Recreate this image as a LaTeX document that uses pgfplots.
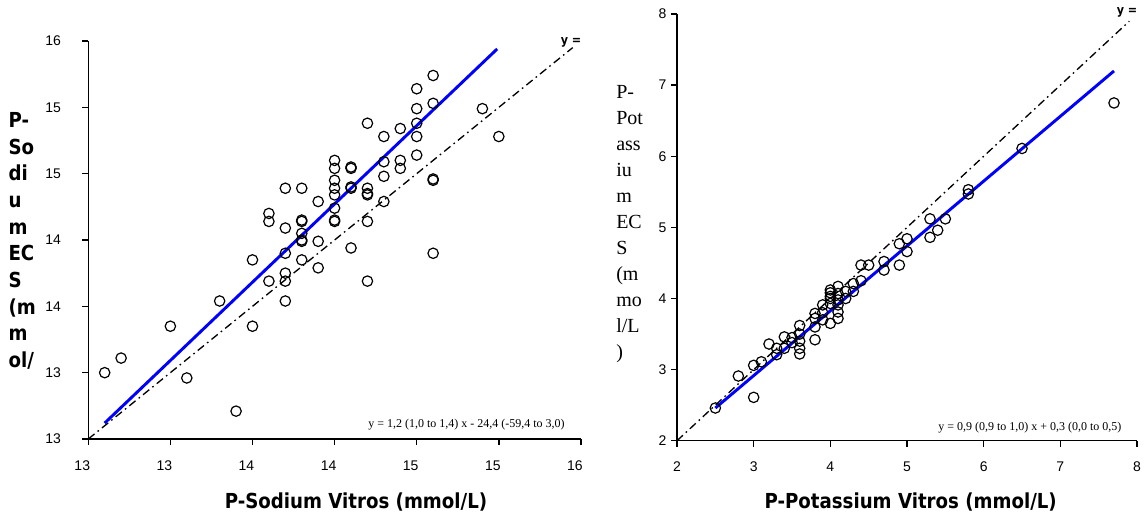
\documentclass[border=0pt]{standalone}
\usepackage{fontspec}
\setmainfont{Liberation Serif}
\newfontfamily\labfont[FakeStretch=0.88]{DejaVu Sans}
\newfontfamily\tickfont{Liberation Sans}
\usepackage{pgfplots}
\pgfplotsset{compat=1.18}

\pgfplotsset{panel/.style={
  scale only axis, axis lines=left,
  axis line style={-, line width=1.1pt},
  tick align=outside, major tick length=4.5pt,
  tick style={black, line width=1.1pt},
  clip=false,
  ticklabel style={font=\fontsize{10.5}{12}\tickfont},
  xticklabel style={yshift=-8pt},
}}
\pgfplotsset{circ/.style={only marks, mark=o, mark size=3.9pt, black, mark options={line width=0.9pt}}}
\pgfplotsset{ident/.style={black, line width=1pt, dash pattern=on 6pt off 3pt on 1.2pt off 3pt}}

\pgfplotstableread{
x y
151 157.4
150 156.4
151 155.3
150 154.9
154 154.9
150 153.8
147 153.8
149 153.4
148 152.8
150 152.8
155 152.8
150 151.4
145 151.0
145 150.4
146 150.4
146 150.5
148 150.9
149 151.0
149 150.4
148 149.8
151 149.5
151 149.6
145 149.5
145 148.9
145 148.4
146 148.9
146 149.0
147 148.9
147 148.4
147 148.5
143 148.9
142 148.9
144 147.9
148 147.9
145 147.4
145 146.4
145 146.5
147 146.4
143 146.4
143 146.5
141 147.0
141 146.4
142 145.9
143 145.5
143 144.9
143 145.0
144 144.9
146 144.4
142 144.0
151 144.0
140 143.5
143 143.5
144 142.9
142 142.5
141 141.9
142 141.9
147 141.9
142 140.4
138 140.4
135 138.5
140 138.5
132 136.1
131 135.0
136 134.6
139 132.1
}\sodium

\pgfplotstableread{
x y
2.5 2.46
2.8 2.91
3.0 2.61
3.0 3.06
3.1 3.11
3.2 3.36
3.3 3.21
3.3 3.30
3.4 3.30
3.4 3.46
3.5 3.38
3.5 3.45
3.6 3.22
3.6 3.30
3.6 3.40
3.6 3.50
3.6 3.62
3.8 3.42
3.8 3.60
3.8 3.72
3.8 3.79
3.9 3.70
3.9 3.80
3.9 3.91
4.0 3.65
4.0 3.93
4.0 4.00
4.0 4.03
4.0 4.08
4.0 4.12
4.1 3.72
4.1 3.81
4.1 3.91
4.1 3.98
4.1 4.07
4.1 4.17
4.2 4.00
4.2 4.10
4.3 4.10
4.3 4.21
4.4 4.25
4.4 4.47
4.5 4.47
4.7 4.40
4.7 4.52
4.9 4.47
4.9 4.77
5.0 4.66
5.0 4.84
5.3 4.86
5.3 5.12
5.4 4.96
5.5 5.12
5.8 5.47
5.8 5.53
6.5 6.11
7.7 6.75
}\potassium

\begin{document}
\begin{tikzpicture}
\useasboundingbox (0,0) rectangle (858pt,392.25pt);

% sodium
\begin{axis}[panel, at={(66.2pt,63pt)}, anchor=south west,
  width=369.5pt, height=298.5pt,
  xmin=130, xmax=160, ymin=130, ymax=160,
  xtick={130,135,...,160}, ytick={130,135,...,160},
  xticklabels={13,13,14,14,15,15,16},
  yticklabels={13,13,14,14,15,15,16},
  xticklabel style={xshift=-4.5pt},
  yticklabel style={xshift=-12.5pt}]
  \addplot[ident] coordinates {(130,130) (159.5,159.5)};
  \addplot[circ] table {\sodium};
  \addplot[blue, line width=2.2pt] coordinates {(131,131.2) (154.9,159.4)};
  \node[font=\labfont\bfseries\fontsize{9.5}{10}\selectfont] at (axis cs:159.4,159.9) {y =};
\end{axis}

% potassium
\begin{axis}[panel, at={(507.75pt,61.7pt)}, anchor=south west,
  width=345pt, height=320pt,
  xmin=2, xmax=8, ymin=2, ymax=8,
  xtick={2,...,8}, ytick={2,...,8},
  xticklabels={2,3,4,5,6,7,8},
  yticklabels={2,3,4,5,6,7,8}]
  \addplot[ident] coordinates {(2,2) (7.9,7.9)};
  \addplot[circ] table {\potassium};
  \addplot[blue, line width=2.2pt] coordinates {(2.5,2.46) (7.7,7.2)};
  \node[font=\labfont\bfseries\fontsize{9.5}{10}\selectfont] at (axis cs:7.87,8.02) {y =};
\end{axis}

% axis titles
\node[anchor=north west, inner sep=0pt, align=left,
  font=\labfont\bfseries\fontsize{15.5}{20}\selectfont] at (6.2pt,308pt)
  {P-\\So\\di\\u\\m\\EC\\S\\(m\\m\\ol/};
\node[anchor=north west, inner sep=0pt, align=left,
  font=\fontsize{15}{19.5}\selectfont] at (462pt,328.5pt)
  {P-\\Pot\\ass\\iu\\m\\EC\\S\\(m\\mo\\l/L\\)};
\node[anchor=base, font=\labfont\bfseries\fontsize{15.5}{18}\selectfont] at (267pt,10.5pt) {P-Sodium Vitros (mmol/L)};
\node[anchor=base, font=\labfont\bfseries\fontsize{15.5}{18}\selectfont] at (683pt,10.5pt) {P-Potassium Vitros (mmol/L)};

% regression equations
\node[anchor=base east, inner sep=0pt, font=\fontsize{9}{10}\selectfont] at (423.75pt,71.25pt) {y = 1,2 (1,0 to 1,4) x - 24,4 (-59,4 to 3,0)};
\node[anchor=base east, inner sep=0pt, font=\fontsize{9}{10}\selectfont] at (841.3pt,69.2pt) {y = 0,9 (0,9 to 1,0) x + 0,3 (0,0 to 0,5)};
\end{tikzpicture}
\end{document}
